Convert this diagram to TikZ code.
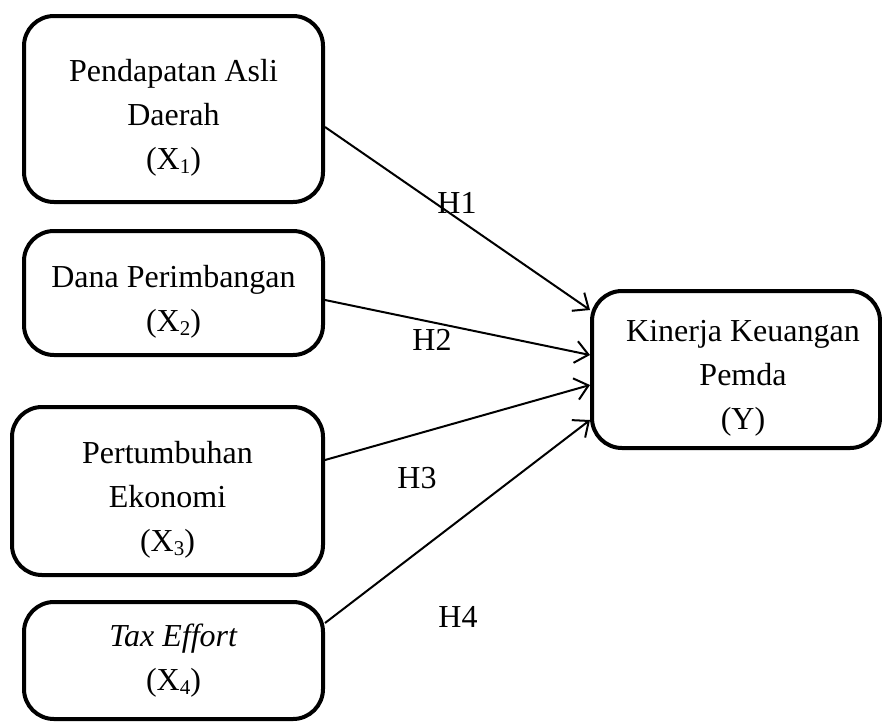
\documentclass[tikz,border=0pt]{standalone}
\usepackage{fontspec}
\setmainfont{Liberation Serif}
\usetikzlibrary{arrows.meta}
\newcommand\boxstrut{\rule{0pt}{39pt}}
\newcommand\lowsub[1]{\raisebox{-4pt}{\fontsize{21}{21}\selectfont #1}}
\begin{document}
\begin{tikzpicture}[x=1pt,y=-1pt,
  varbox/.style={draw,line width=4pt,rounded corners=30pt,inner sep=0pt,align=center,
    font=\fontsize{32}{44}\selectfont},
  link/.style={line width=2pt,-{Straight Barb[length=13pt,width=22pt,line width=2pt]}},
  hlabel/.style={font=\fontsize{32}{44}\selectfont,inner sep=0pt}]
\useasboundingbox (0,0) rectangle (882,723);
\node[varbox,minimum width=299pt,minimum height=186pt] (b1) at (173.5,109)
  {\boxstrut Pendapatan Asli\\Daerah\\(X\lowsub{1})};
\node[varbox,minimum width=299pt,minimum height=124pt] (b2) at (173.5,293)
  {\boxstrut Dana Perimbangan\\(X\lowsub{2})};
\node[varbox,minimum width=311pt,minimum height=168pt] (b3) at (167.5,491)
  {\boxstrut Pertumbuhan\\Ekonomi\\(X\lowsub{3})};
\node[varbox,minimum width=299pt,minimum height=117pt] (b4) at (173.5,660.5)
  {\textit{Tax Effort}\\(X\lowsub{4})};
\node[varbox,minimum width=288pt,minimum height=157pt] (y) at (736,369.5)
  {\boxstrut\hspace{14pt}Kinerja Keuangan\\\hspace{14pt}Pemda\\\hspace{14pt}(Y)};
\draw[link] ([yshift=-18pt]b1.east) -- ([yshift=59.5pt]y.west);
\draw[link] ([yshift=-7pt]b2.east) -- ([yshift=14.5pt]y.west);
\draw[link] ([yshift=31pt]b3.east) -- ([yshift=-15.5pt]y.west);
\draw[link] ([yshift=37.5pt]b4.east) -- ([yshift=-50.5pt]y.west);
\node[hlabel] (h1) at (457,203) {H1};
\node[hlabel] (h2) at (432,340) {H2};
\node[hlabel] (h3) at (417,478) {H3};
\node[hlabel] (h4) at (458,617) {H4};
\end{tikzpicture}
\end{document}
